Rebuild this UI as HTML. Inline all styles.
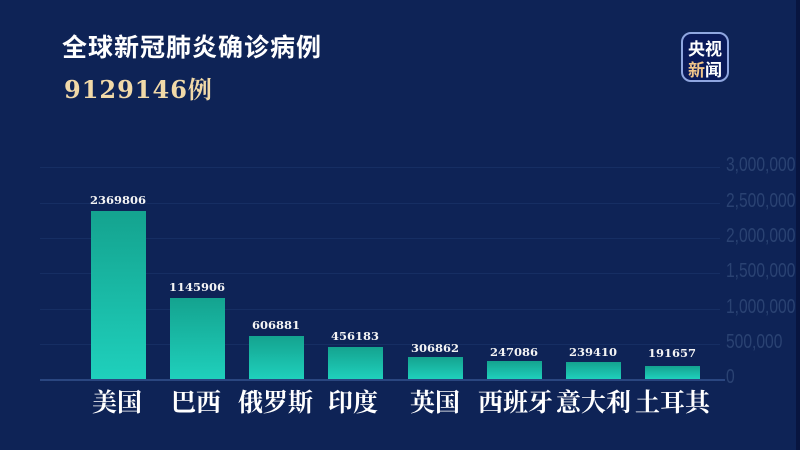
<!DOCTYPE html>
<html><head><meta charset="utf-8"><style>
body{margin:0;width:800px;height:450px;overflow:hidden;background:#0e2356;position:relative;font-family:"Liberation Serif","Noto Serif CJK SC",serif}
.a{position:absolute}
.t{left:62px;top:28px;color:#fff;font-size:25px;font-weight:bold;font-family:"Liberation Sans","Noto Sans CJK SC",sans-serif;letter-spacing:1px}
.n{left:64px;top:70px;color:#f1d9a8;font-size:24px;font-weight:bold;letter-spacing:1px;font-family:"DejaVu Serif","Noto Serif CJK SC",serif}
.g{height:1px;background:#162e63;left:40px;width:680px}
.y{left:726px;color:#2a4272;font-size:20px;font-family:"Liberation Sans",sans-serif;transform:scaleX(0.78);transform-origin:left;white-space:nowrap}
.b{width:55px;background:linear-gradient(#14a38f,#1fd0bc)}
.v{width:80px;text-align:center;color:#f4f4f4;font-size:11.5px;font-weight:bold;font-family:"DejaVu Serif",serif}
.l{top:383px;color:#fff;font-size:25px;font-weight:bold;white-space:nowrap}
</style></head><body>
<div class="a t">全球新冠肺炎确诊病例</div>
<div class="a n">9129146例</div>
<div class="a" style="left:681px;top:32px;width:48px;height:50px;border:2px solid #8fa6e0;border-radius:10px;background:#0a1a5a;color:#fff;font-size:17px;font-weight:bold;line-height:21px;text-align:center;padding-top:3px;box-sizing:border-box;font-family:'Noto Sans CJK SC',sans-serif">央视<br><span style="color:#f1c58a">新</span>闻</div>
<div class="a" style="left:796px;top:0;width:4px;height:450px;background:#081540"></div>
<div class="a g" style="top:167px"></div><div class="a g" style="top:203px"></div><div class="a g" style="top:238px"></div><div class="a g" style="top:273px"></div><div class="a g" style="top:309px"></div><div class="a g" style="top:344px"></div>
<div class="a" style="left:40px;top:379px;width:685px;height:2px;background:#2a4680"></div>
<div class="a y" style="top:154px">3,000,000</div><div class="a y" style="top:190px">2,500,000</div><div class="a y" style="top:225px">2,000,000</div><div class="a y" style="top:260px">1,500,000</div><div class="a y" style="top:296px">1,000,000</div><div class="a y" style="top:331px">500,000</div><div class="a y" style="top:366px">0</div>
<div class="a b" style="left:91px;top:211px;height:168px"></div><div class="a v" style="left:78px;top:193px">2369806</div>
<div class="a b" style="left:170px;top:298px;height:81px"></div><div class="a v" style="left:157px;top:280px">1145906</div>
<div class="a b" style="left:249px;top:336px;height:43px"></div><div class="a v" style="left:236px;top:318px">606881</div>
<div class="a b" style="left:328px;top:347px;height:32px"></div><div class="a v" style="left:315px;top:329px">456183</div>
<div class="a b" style="left:408px;top:357px;height:22px"></div><div class="a v" style="left:395px;top:341px">306862</div>
<div class="a b" style="left:487px;top:361px;height:18px"></div><div class="a v" style="left:474px;top:345px">247086</div>
<div class="a b" style="left:566px;top:362px;height:17px"></div><div class="a v" style="left:553px;top:345px">239410</div>
<div class="a b" style="left:645px;top:366px;height:13px"></div><div class="a v" style="left:632px;top:346px">191657</div>
<div class="a l" style="left:92px">美国</div>
<div class="a l" style="left:171px">巴西</div>
<div class="a l" style="left:238px">俄罗斯</div>
<div class="a l" style="left:328px">印度</div>
<div class="a l" style="left:410px">英国</div>
<div class="a l" style="left:478px">西班牙</div>
<div class="a l" style="left:556px">意大利</div>
<div class="a l" style="left:635px">土耳其</div>
</body></html>
